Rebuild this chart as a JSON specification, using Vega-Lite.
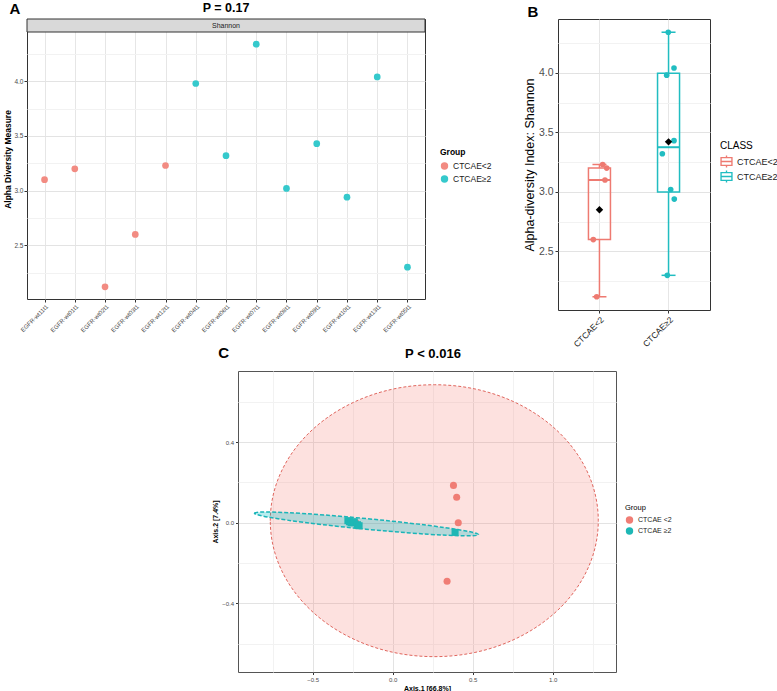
{
  "$schema": "https://vega.github.io/schema/vega-lite/v6.json",
  "background": "white",
  "padding": {"left": 3, "top": 1, "right": 0, "bottom": 0},
  "config": {
    "font": "Liberation Sans",
    "axis": {"domain": false, "tickColor": "#333333", "labelColor": "#4d4d4d", "titleColor": "#000000", "gridColor": "#e6e6e6"},
    "legend": {"padding": 0, "labelColor": "#1a1a1a", "titleColor": "#000000"},
    "title": {"color": "#000000"}
  },
  "datasets": {
    "alpha": [
      {"sample": "EGFR-wt11t1", "shannon": 3.10, "group": "CTCAE<2", "jitter": 0.080},
      {"sample": "EGFR-wt01t1", "shannon": 3.20, "group": "CTCAE<2", "jitter": 0.105},
      {"sample": "EGFR-wt02t1", "shannon": 2.12, "group": "CTCAE<2", "jitter": -0.040},
      {"sample": "EGFR-wt03t1", "shannon": 2.60, "group": "CTCAE<2", "jitter": -0.089},
      {"sample": "EGFR-wt12t1", "shannon": 3.23, "group": "CTCAE<2", "jitter": 0.047},
      {"sample": "EGFR-wt04t1", "shannon": 3.98, "group": "CTCAE≥2", "jitter": -0.027},
      {"sample": "EGFR-wt06t1", "shannon": 3.32, "group": "CTCAE≥2", "jitter": -0.090},
      {"sample": "EGFR-wt07t1", "shannon": 4.34, "group": "CTCAE≥2", "jitter": -0.004},
      {"sample": "EGFR-wt08t1", "shannon": 3.02, "group": "CTCAE≥2", "jitter": 0.031},
      {"sample": "EGFR-wt09t1", "shannon": 3.43, "group": "CTCAE≥2", "jitter": 0.079},
      {"sample": "EGFR-wt10t1", "shannon": 2.94, "group": "CTCAE≥2", "jitter": 0.083},
      {"sample": "EGFR-wt13t1", "shannon": 4.04, "group": "CTCAE≥2", "jitter": 0.079},
      {"sample": "EGFR-wt05t1", "shannon": 2.30, "group": "CTCAE≥2", "jitter": -0.018}
    ],
    "box": [
      {"group": "CTCAE<2", "min": 2.12, "q1": 2.60, "median": 3.10, "q3": 3.20, "max": 3.23, "mean": 2.85},
      {"group": "CTCAE≥2", "min": 2.30, "q1": 3.00, "median": 3.375, "q3": 3.995, "max": 4.34, "mean": 3.42}
    ],
    "pcoa": [
      {"grp": "CTCAE <2", "axis1": 0.38, "axis2": 0.185},
      {"grp": "CTCAE <2", "axis1": 0.40, "axis2": 0.126},
      {"grp": "CTCAE <2", "axis1": 0.41, "axis2": 0.0},
      {"grp": "CTCAE <2", "axis1": 0.34, "axis2": -0.29},
      {"grp": "CTCAE <2", "axis1": -0.23, "axis2": 0.0},
      {"grp": "CTCAE ≥2", "axis1": -0.28, "axis2": 0.01},
      {"grp": "CTCAE ≥2", "axis1": -0.27, "axis2": 0.005},
      {"grp": "CTCAE ≥2", "axis1": -0.26, "axis2": 0.0},
      {"grp": "CTCAE ≥2", "axis1": -0.25, "axis2": 0.0},
      {"grp": "CTCAE ≥2", "axis1": -0.24, "axis2": 0.005},
      {"grp": "CTCAE ≥2", "axis1": -0.22, "axis2": -0.01},
      {"grp": "CTCAE ≥2", "axis1": -0.21, "axis2": -0.015},
      {"grp": "CTCAE ≥2", "axis1": 0.39, "axis2": -0.048}
    ],
    "ellipses": [
      {"grp": "CTCAE <2", "axis1": 0.26, "axis2": 0.01},
      {"grp": "CTCAE ≥2", "axis1": -0.164, "axis2": -0.006}
    ]
  },
  "spacing": -3,
  "resolve": {"scale": {"x": "independent", "y": "independent", "color": "independent"}, "legend": {"color": "independent"}, "axis": {"x": "independent", "y": "independent"}},
  "vconcat": [
    {
      "hconcat": [
        {
          "width": 398,
          "height": 280,
          "title": {"text": "P = 0.17", "fontSize": 12.5, "fontWeight": "bold", "offset": 4, "anchor": "middle"},
          "view": {"stroke": "#333333", "strokeWidth": 1},
          "layer": [
            {
              "data": {"name": "alpha"},
              "mark": {"type": "point", "filled": true, "size": 45, "opacity": 1},
              "encoding": {
                "x": {"field": "sample", "type": "nominal", "sort": null, "scale": {"type": "point", "padding": 0.58},
                  "axis": {"title": null, "labelAngle": -45, "labelFontSize": 6, "labelPadding": 1, "tickSize": 3, "grid": true, "gridColor": "#e6e6e6"}},
                "y": {"field": "shannon", "type": "quantitative", "title": "Alpha Diversity Measure", "scale": {"domain": [2.009, 4.57], "nice": false, "zero": false},
                  "axis": {"titleFontSize": 8.5, "titleFontWeight": "bold", "titlePadding": 1, "labelFontSize": 6.5, "labelPadding": 1, "tickSize": 3, "labelOverlap": false,
                    "values": [2.25, 2.5, 2.75, 3, 3.25, 3.5, 3.75, 4, 4.25],
                    "labelExpr": "abs(datum.value * 2 - round(datum.value * 2)) < 0.01 ? format(datum.value, '.1f') : ''",
                    "tickOpacity": {"condition": {"test": "abs(datum.value * 2 - round(datum.value * 2)) > 0.01", "value": 0}, "value": 1},
                    "gridColor": {"condition": {"test": "abs(datum.value * 2 - round(datum.value * 2)) > 0.01", "value": "#f2f2f2"}, "value": "#e3e3e3"}}},
                "color": {"field": "group", "type": "nominal", "scale": {"domain": ["CTCAE<2", "CTCAE≥2"], "range": ["#F28B82", "#35C9CC"]},
                  "legend": {"title": "Group", "orient": "none", "legendX": 413, "legendY": 129, "titleFontSize": 8.5, "titleFontWeight": "bold", "labelFontSize": 8.5, "symbolType": "circle", "symbolSize": 55, "titlePadding": 5, "rowPadding": 4}}
              }
            },
            {
              "data": {"values": [{"label": "Shannon"}]},
              "mark": {"type": "rect", "fill": "#d9d9d9", "stroke": "#333333", "strokeWidth": 1},
              "encoding": {
                "y": {"datum": 4.451, "type": "quantitative", "title": "Alpha Diversity Measure",
                  "axis": {"titleFontSize": 8.5, "titleFontWeight": "bold", "titlePadding": 1, "labelFontSize": 6.5, "labelPadding": 1, "tickSize": 3, "labelOverlap": false,
                    "values": [2.25, 2.5, 2.75, 3, 3.25, 3.5, 3.75, 4, 4.25],
                    "labelExpr": "abs(datum.value * 2 - round(datum.value * 2)) < 0.01 ? format(datum.value, '.1f') : ''",
                    "tickOpacity": {"condition": {"test": "abs(datum.value * 2 - round(datum.value * 2)) > 0.01", "value": 0}, "value": 1},
                    "gridColor": {"condition": {"test": "abs(datum.value * 2 - round(datum.value * 2)) > 0.01", "value": "#f2f2f2"}, "value": "#e3e3e3"}}},
                "y2": {"datum": 4.57}
              }
            },
            {
              "data": {"values": [{"label": "Shannon"}]},
              "mark": {"type": "text", "fontSize": 7, "color": "#1a1a1a"},
              "encoding": {
                "y": {"datum": 4.51, "type": "quantitative", "title": "Alpha Diversity Measure",
                  "axis": {"titleFontSize": 8.5, "titleFontWeight": "bold", "titlePadding": 1, "labelFontSize": 6.5, "labelPadding": 1, "tickSize": 3, "labelOverlap": false,
                    "values": [2.25, 2.5, 2.75, 3, 3.25, 3.5, 3.75, 4, 4.25],
                    "labelExpr": "abs(datum.value * 2 - round(datum.value * 2)) < 0.01 ? format(datum.value, '.1f') : ''",
                    "tickOpacity": {"condition": {"test": "abs(datum.value * 2 - round(datum.value * 2)) > 0.01", "value": 0}, "value": 1},
                    "gridColor": {"condition": {"test": "abs(datum.value * 2 - round(datum.value * 2)) > 0.01", "value": "#f2f2f2"}, "value": "#e3e3e3"}}},
                "text": {"field": "label"}
              }
            }
          ]
        },
        {
          "width": 152,
          "height": 291,
          "title": {"text": "B", "anchor": "start", "frame": "bounds", "fontSize": 15, "fontWeight": "bold", "offset": -1, "dx": 4},
          "view": {"stroke": "#333333", "strokeWidth": 1},
          "encoding": {
            "x": {"field": "group", "type": "nominal", "scale": {"type": "band", "paddingInner": 0, "paddingOuter": 0.1},
              "axis": {"title": null, "labelAngle": -45, "labelFontSize": 8.5, "labelPadding": 2, "tickSize": 3, "bandPosition": 0.5, "grid": true, "gridColor": "#e6e6e6", "labelColor": "#1a1a1a"}}
          },
          "layer": [
            {
              "data": {"name": "box"},
              "mark": {"type": "bar", "filled": false, "width": 22, "strokeWidth": 1.5},
              "encoding": {
                "y": {"field": "q1", "type": "quantitative", "title": "Alpha-diversity Index: Shannon", "scale": {"domain": [2.009, 4.451], "nice": false, "zero": false},
                  "axis": {"titleFontSize": 12.5, "titleFontWeight": "normal", "titlePadding": 2, "labelFontSize": 10.5, "labelPadding": 2, "tickSize": 3, "labelOverlap": false,
                    "values": [2.25, 2.5, 2.75, 3, 3.25, 3.5, 3.75, 4, 4.25],
                    "labelExpr": "abs(datum.value * 2 - round(datum.value * 2)) < 0.01 ? format(datum.value, '.1f') : ''",
                    "tickOpacity": {"condition": {"test": "abs(datum.value * 2 - round(datum.value * 2)) > 0.01", "value": 0}, "value": 1},
                    "gridColor": {"condition": {"test": "abs(datum.value * 2 - round(datum.value * 2)) > 0.01", "value": "#f2f2f2"}, "value": "#e3e3e3"}}},
                "y2": {"field": "q3"},
                "color": {"field": "group", "type": "nominal", "scale": {"domain": ["CTCAE<2", "CTCAE≥2"], "range": ["#EE7A71", "#21BDC1"]},
                  "legend": {"title": "CLASS", "orient": "none", "legendX": 162, "legendY": 122, "titleFontSize": 10, "titleFontWeight": "normal", "labelFontSize": 9, "symbolType": "M -1 -0.75 H 1 V 0.75 H -1 Z M -0.78 -0.53 V 0.53 H 0.78 V -0.53 Z M -0.78 -0.11 H 0.78 V 0.11 H -0.78 Z M -0.11 -1 H 0.11 V -0.75 H -0.11 Z M -0.11 0.75 H 0.11 V 1 H -0.11 Z", "symbolSize": 150, "symbolStrokeWidth": 0, "titlePadding": 4, "rowPadding": 2}}
              }
            },
            {
              "data": {"name": "box"},
              "mark": {"type": "rule", "strokeWidth": 1.5},
              "encoding": {
                "y": {"field": "min", "type": "quantitative", "title": "Alpha-diversity Index: Shannon",
                  "axis": {"titleFontSize": 12.5, "titleFontWeight": "normal", "titlePadding": 2, "labelFontSize": 10.5, "labelPadding": 2, "tickSize": 3, "labelOverlap": false,
                    "values": [2.25, 2.5, 2.75, 3, 3.25, 3.5, 3.75, 4, 4.25],
                    "labelExpr": "abs(datum.value * 2 - round(datum.value * 2)) < 0.01 ? format(datum.value, '.1f') : ''",
                    "tickOpacity": {"condition": {"test": "abs(datum.value * 2 - round(datum.value * 2)) > 0.01", "value": 0}, "value": 1},
                    "gridColor": {"condition": {"test": "abs(datum.value * 2 - round(datum.value * 2)) > 0.01", "value": "#f2f2f2"}, "value": "#e3e3e3"}}},
                "y2": {"field": "q1"},
                "color": {"field": "group", "type": "nominal"}
              }
            },
            {
              "data": {"name": "box"},
              "mark": {"type": "rule", "strokeWidth": 1.5},
              "encoding": {
                "y": {"field": "q3", "type": "quantitative", "title": "Alpha-diversity Index: Shannon",
                  "axis": {"titleFontSize": 12.5, "titleFontWeight": "normal", "titlePadding": 2, "labelFontSize": 10.5, "labelPadding": 2, "tickSize": 3, "labelOverlap": false,
                    "values": [2.25, 2.5, 2.75, 3, 3.25, 3.5, 3.75, 4, 4.25],
                    "labelExpr": "abs(datum.value * 2 - round(datum.value * 2)) < 0.01 ? format(datum.value, '.1f') : ''",
                    "tickOpacity": {"condition": {"test": "abs(datum.value * 2 - round(datum.value * 2)) > 0.01", "value": 0}, "value": 1},
                    "gridColor": {"condition": {"test": "abs(datum.value * 2 - round(datum.value * 2)) > 0.01", "value": "#f2f2f2"}, "value": "#e3e3e3"}}},
                "y2": {"field": "max"},
                "color": {"field": "group", "type": "nominal"}
              }
            },
            {
              "data": {"name": "box"},
              "mark": {"type": "tick", "size": 14, "thickness": 1.5, "opacity": 1},
              "encoding": {
                "y": {"field": "min", "type": "quantitative", "title": "Alpha-diversity Index: Shannon",
                  "axis": {"titleFontSize": 12.5, "titleFontWeight": "normal", "titlePadding": 2, "labelFontSize": 10.5, "labelPadding": 2, "tickSize": 3, "labelOverlap": false,
                    "values": [2.25, 2.5, 2.75, 3, 3.25, 3.5, 3.75, 4, 4.25],
                    "labelExpr": "abs(datum.value * 2 - round(datum.value * 2)) < 0.01 ? format(datum.value, '.1f') : ''",
                    "tickOpacity": {"condition": {"test": "abs(datum.value * 2 - round(datum.value * 2)) > 0.01", "value": 0}, "value": 1},
                    "gridColor": {"condition": {"test": "abs(datum.value * 2 - round(datum.value * 2)) > 0.01", "value": "#f2f2f2"}, "value": "#e3e3e3"}}},
                "color": {"field": "group", "type": "nominal"}
              }
            },
            {
              "data": {"name": "box"},
              "mark": {"type": "tick", "size": 14, "thickness": 1.5, "opacity": 1},
              "encoding": {
                "y": {"field": "max", "type": "quantitative", "title": "Alpha-diversity Index: Shannon",
                  "axis": {"titleFontSize": 12.5, "titleFontWeight": "normal", "titlePadding": 2, "labelFontSize": 10.5, "labelPadding": 2, "tickSize": 3, "labelOverlap": false,
                    "values": [2.25, 2.5, 2.75, 3, 3.25, 3.5, 3.75, 4, 4.25],
                    "labelExpr": "abs(datum.value * 2 - round(datum.value * 2)) < 0.01 ? format(datum.value, '.1f') : ''",
                    "tickOpacity": {"condition": {"test": "abs(datum.value * 2 - round(datum.value * 2)) > 0.01", "value": 0}, "value": 1},
                    "gridColor": {"condition": {"test": "abs(datum.value * 2 - round(datum.value * 2)) > 0.01", "value": "#f2f2f2"}, "value": "#e3e3e3"}}},
                "color": {"field": "group", "type": "nominal"}
              }
            },
            {
              "data": {"name": "box"},
              "mark": {"type": "tick", "size": 22, "thickness": 2, "opacity": 1},
              "encoding": {
                "y": {"field": "median", "type": "quantitative", "title": "Alpha-diversity Index: Shannon",
                  "axis": {"titleFontSize": 12.5, "titleFontWeight": "normal", "titlePadding": 2, "labelFontSize": 10.5, "labelPadding": 2, "tickSize": 3, "labelOverlap": false,
                    "values": [2.25, 2.5, 2.75, 3, 3.25, 3.5, 3.75, 4, 4.25],
                    "labelExpr": "abs(datum.value * 2 - round(datum.value * 2)) < 0.01 ? format(datum.value, '.1f') : ''",
                    "tickOpacity": {"condition": {"test": "abs(datum.value * 2 - round(datum.value * 2)) > 0.01", "value": 0}, "value": 1},
                    "gridColor": {"condition": {"test": "abs(datum.value * 2 - round(datum.value * 2)) > 0.01", "value": "#f2f2f2"}, "value": "#e3e3e3"}}},
                "color": {"field": "group", "type": "nominal"}
              }
            },
            {
              "data": {"name": "alpha"},
              "mark": {"type": "point", "filled": true, "size": 32, "opacity": 1},
              "encoding": {
                "y": {"field": "shannon", "type": "quantitative", "title": "Alpha-diversity Index: Shannon",
                  "axis": {"titleFontSize": 12.5, "titleFontWeight": "normal", "titlePadding": 2, "labelFontSize": 10.5, "labelPadding": 2, "tickSize": 3, "labelOverlap": false,
                    "values": [2.25, 2.5, 2.75, 3, 3.25, 3.5, 3.75, 4, 4.25],
                    "labelExpr": "abs(datum.value * 2 - round(datum.value * 2)) < 0.01 ? format(datum.value, '.1f') : ''",
                    "tickOpacity": {"condition": {"test": "abs(datum.value * 2 - round(datum.value * 2)) > 0.01", "value": 0}, "value": 1},
                    "gridColor": {"condition": {"test": "abs(datum.value * 2 - round(datum.value * 2)) > 0.01", "value": "#f2f2f2"}, "value": "#e3e3e3"}}},
                "xOffset": {"field": "jitter", "type": "quantitative", "scale": {"domain": [-0.5, 0.5]}},
                "color": {"field": "group", "type": "nominal"}
              }
            },
            {
              "data": {"name": "box"},
              "mark": {"type": "point", "shape": "diamond", "filled": true, "size": 55, "color": "#000000", "opacity": 1},
              "encoding": {
                "y": {"field": "mean", "type": "quantitative", "title": "Alpha-diversity Index: Shannon",
                  "axis": {"titleFontSize": 12.5, "titleFontWeight": "normal", "titlePadding": 2, "labelFontSize": 10.5, "labelPadding": 2, "tickSize": 3, "labelOverlap": false,
                    "values": [2.25, 2.5, 2.75, 3, 3.25, 3.5, 3.75, 4, 4.25],
                    "labelExpr": "abs(datum.value * 2 - round(datum.value * 2)) < 0.01 ? format(datum.value, '.1f') : ''",
                    "tickOpacity": {"condition": {"test": "abs(datum.value * 2 - round(datum.value * 2)) > 0.01", "value": 0}, "value": 1},
                    "gridColor": {"condition": {"test": "abs(datum.value * 2 - round(datum.value * 2)) > 0.01", "value": "#f2f2f2"}, "value": "#e3e3e3"}}}
              }
            }
          ]
        }
      ],
      "spacing": 133,
      "bounds": "flush",
      "title": {"text": "A", "anchor": "start", "frame": "bounds", "fontSize": 15, "fontWeight": "bold", "offset": -15, "dx": 6},
      "resolve": {"scale": {"x": "independent", "y": "independent", "color": "independent"}, "legend": {"color": "independent"}, "axis": {"x": "independent", "y": "independent"}}
    },
    {
      "hconcat": [
        {
          "width": 211,
          "height": 301,
          "data": {"values": []},
          "mark": {"type": "point", "opacity": 0},
          "view": {"stroke": null, "fill": null},
          "title": {"text": "C", "anchor": "end", "fontSize": 15, "fontWeight": "bold", "offset": 10, "dx": -9}
        },
        {
          "width": 378,
          "height": 301,
          "title": {"text": "P < 0.016", "fontSize": 13, "fontWeight": "bold", "offset": 10, "dx": 6},
          "view": {"stroke": "#555555", "strokeWidth": 1},
          "encoding": {
            "x": {"field": "axis1", "type": "quantitative", "title": "Axis.1   [66.8%]", "scale": {"domain": [-0.967, 1.396], "nice": false, "zero": false},
              "axis": {"titleFontSize": 7, "titleFontWeight": "bold", "titlePadding": 2, "labelFontSize": 6, "labelPadding": 2, "tickSize": 2.5,
                "values": [-0.75, -0.5, -0.25, 0, 0.25, 0.5, 0.75, 1, 1.25],
                "labelExpr": "abs(datum.value * 2 - round(datum.value * 2)) < 0.01 ? format(datum.value, '.1f') : ''",
                "tickOpacity": {"condition": {"test": "abs(datum.value * 2 - round(datum.value * 2)) > 0.01", "value": 0}, "value": 1},
                "gridColor": {"condition": {"test": "abs(datum.value * 2 - round(datum.value * 2)) > 0.01", "value": "#f2f2f2"}, "value": "#e3e3e3"}}},
            "y": {"field": "axis2", "type": "quantitative", "title": "Axis.2   [7.4%]", "scale": {"domain": [-0.74, 0.752], "nice": false, "zero": false},
              "axis": {"titleFontSize": 7, "titleFontWeight": "bold", "titlePadding": 3, "labelFontSize": 6, "labelPadding": 2, "tickSize": 2.5,
                "values": [-0.6, -0.4, -0.2, 0, 0.2, 0.4, 0.6],
                "labelExpr": "abs(datum.value / 0.4 - round(datum.value / 0.4)) < 0.01 ? format(datum.value, '.1f') : ''",
                "tickOpacity": {"condition": {"test": "abs(datum.value / 0.4 - round(datum.value / 0.4)) > 0.01", "value": 0}, "value": 1},
                "gridColor": {"condition": {"test": "abs(datum.value / 0.4 - round(datum.value / 0.4)) > 0.01", "value": "#f2f2f2"}, "value": "#e3e3e3"}}}
          },
          "layer": [
            {
              "data": {"name": "ellipses"},
              "transform": [{"filter": "datum.grp == 'CTCAE <2'"}],
              "mark": {"type": "point", "shape": "M -1 0 A 1 0.829 0 1 1 1 0 A 1 0.829 0 1 1 -1 0 Z", "size": 107584, "filled": true, "fill": "#F8766D", "fillOpacity": 0.22, "stroke": "#E0665E", "strokeOpacity": 1, "strokeDash": [3, 2], "strokeWidth": 1, "opacity": 1}
            },
            {
              "data": {"name": "pcoa"},
              "transform": [{"filter": "datum.grp == 'CTCAE <2'"}],
              "mark": {"type": "point", "shape": "circle", "filled": true, "size": 50, "opacity": 1},
              "encoding": {
                "color": {"field": "grp", "type": "nominal", "scale": {"domain": ["CTCAE <2", "CTCAE ≥2"], "range": ["#F07D75", "#1EB7B5"]},
                  "legend": {"title": "Group", "orient": "none", "legendX": 387, "legendY": 133, "titleFontSize": 7.5, "titleFontWeight": "normal", "labelFontSize": 7, "symbolType": "circle", "symbolSize": 55, "titlePadding": 4, "rowPadding": 2}}
              }
            },
            {
              "data": {"name": "ellipses"},
              "transform": [{"filter": "datum.grp == 'CTCAE ≥2'"}],
              "mark": {"type": "point", "shape": "M -1 0 A 1 0.047 0 1 1 1 0 A 1 0.047 0 1 1 -1 0 Z", "size": 50625, "angle": 5.46, "filled": true, "fill": "#00BFC4", "fillOpacity": 0.28, "stroke": "#1AB5B8", "strokeOpacity": 1, "strokeDash": [4, 2], "strokeWidth": 1.5, "opacity": 1}
            },
            {
              "data": {"name": "pcoa"},
              "transform": [{"filter": "datum.grp == 'CTCAE ≥2'"}],
              "mark": {"type": "point", "shape": "square", "filled": true, "size": 50, "opacity": 1},
              "encoding": {
                "color": {"field": "grp", "type": "nominal", "scale": {"domain": ["CTCAE <2", "CTCAE ≥2"], "range": ["#F07D75", "#1EB7B5"]}}
              }
            }
          ]
        }
      ],
      "spacing": 0,
      "bounds": "flush",
      "resolve": {"scale": {"x": "independent", "y": "independent", "color": "independent"}, "legend": {"color": "independent"}, "axis": {"x": "independent", "y": "independent"}}
    }
  ]
}
